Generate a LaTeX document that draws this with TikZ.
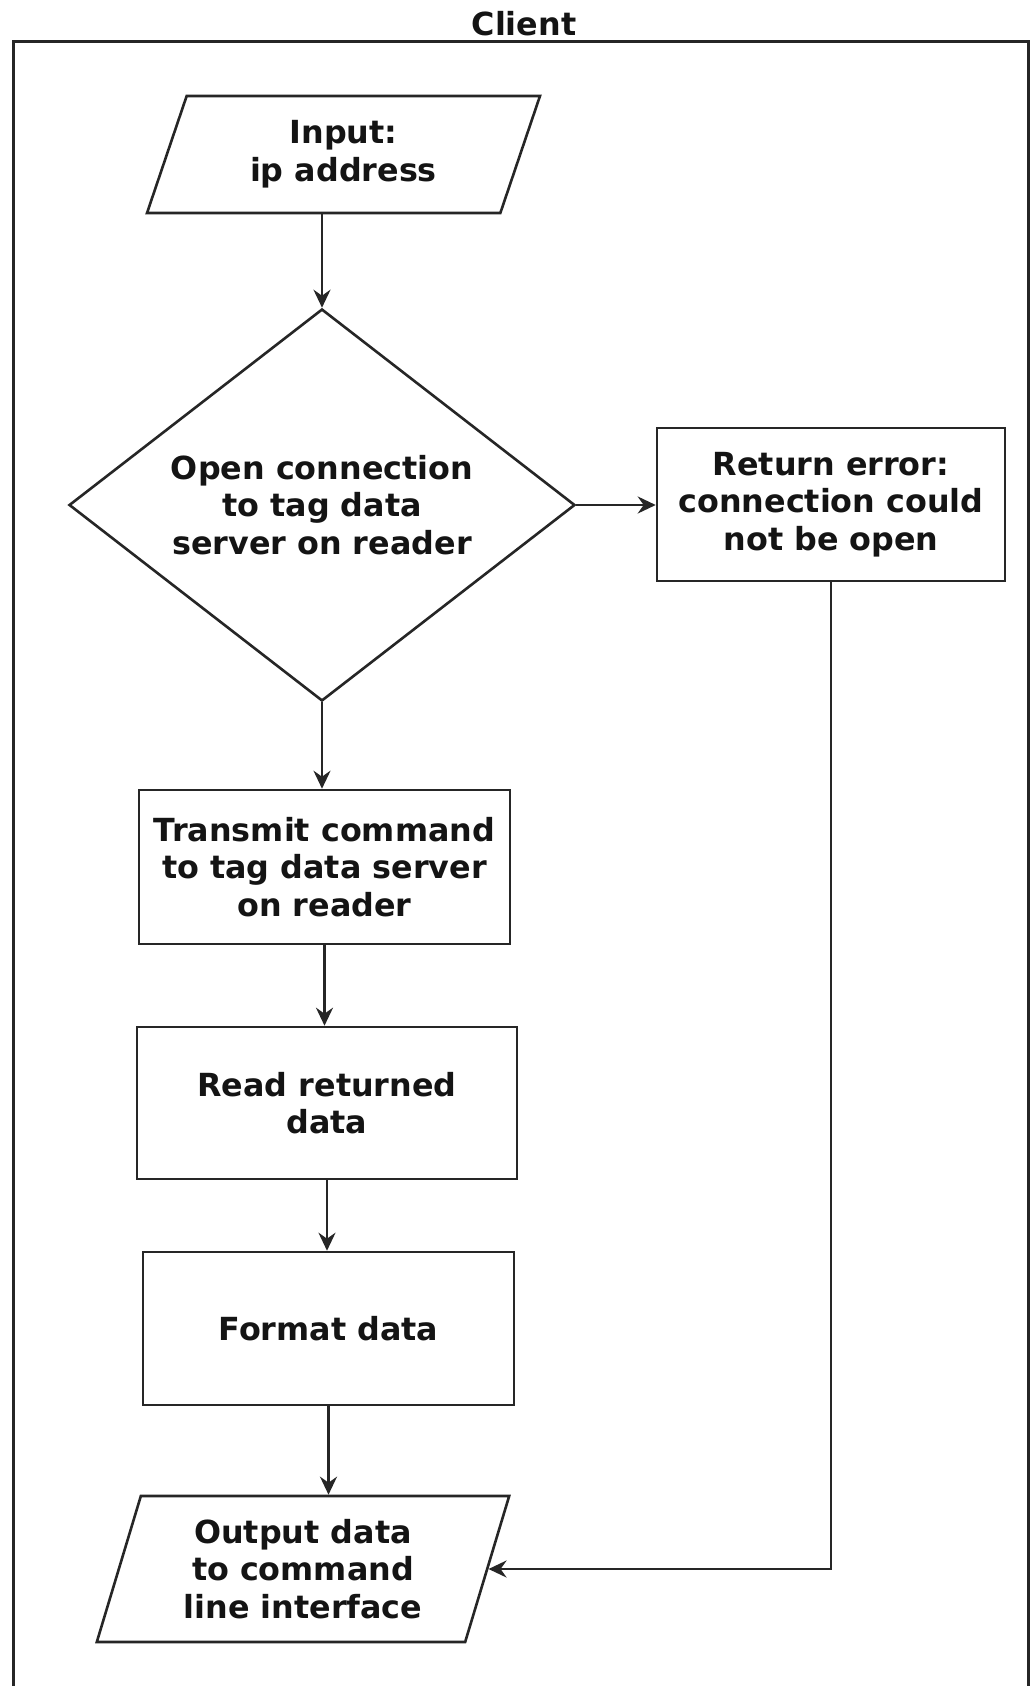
\documentclass[tikz,border=0pt]{standalone}
\usepackage{fontspec}
\setmainfont{DejaVu Sans}
\usetikzlibrary{shapes.geometric,arrows.meta}
\begin{document}
\begin{tikzpicture}[x=1pt,y=-1pt,
  every node/.style={font=\fontsize{31.8}{37.6}\selectfont\bfseries, text=black!92, align=center, inner sep=0pt},
  line/.style={draw=black!85, line width=2.6pt},
  procbox/.style={line, rectangle},
  io/.style={line, trapezium, trapezium stretches=true},
  decision/.style={line, diamond, shape aspect=1.29},
  arr/.style={line, -{Stealth[length=18pt,width=17pt,inset=6pt]}},
]
\useasboundingbox (0,0) rectangle (1032,1686);
\fill[white] (0,0) rectangle (1032,1686);

% swimlane frame and its heading
\draw[draw=black!85, line width=3pt] (13,1686) -- (13,42) -- (1028,42) -- (1028,1686);
\node (title) at (524,24) {Client};

% flowchart nodes
\node[io, trapezium left angle=70.7, trapezium right angle=109.3,
      minimum width=393pt, minimum height=117pt] (inp) at (343.5,154.5) {Input:\\ip address};
\node[decision, minimum width=506pt, minimum height=392pt] (dia) at (322,505)
  {Open connection\\to tag data\\server on reader};
\node[procbox, minimum width=348pt, minimum height=153pt] (err) at (831,504.5)
  {Return error:\\connection could\\not be open};
\node[procbox, minimum width=371pt, minimum height=154pt] (tx) at (324.5,867)
  {Transmit command\\to tag data server\\on reader};
\node[procbox, minimum width=380pt, minimum height=152pt] (rd) at (327,1103)
  {Read returned\\data};
\node[procbox, minimum width=371pt, minimum height=153pt] (fmt) at (328.5,1328.5)
  {Format data};
\node[io, trapezium left angle=72, trapezium right angle=108,
      minimum width=414pt, minimum height=146pt] (out) at (303,1569)
  {Output data\\to command\\line interface};

% connectors
\draw[arr] (inp.south -| dia.north) -- (dia.north);
\draw[arr] (dia.east) -- (dia.east -| err.west);
\draw[arr] (dia.south) -- (dia.south |- tx.north);
\draw[arr] (tx.south) -- (tx.south |- rd.north);
\draw[arr] (rd.south) -- (rd.south |- fmt.north);
\draw[arr] (fmt.south) -- (fmt.south |- out.north);
\draw[arr] (err.south) |- (out.east);
\end{tikzpicture}
\end{document}
